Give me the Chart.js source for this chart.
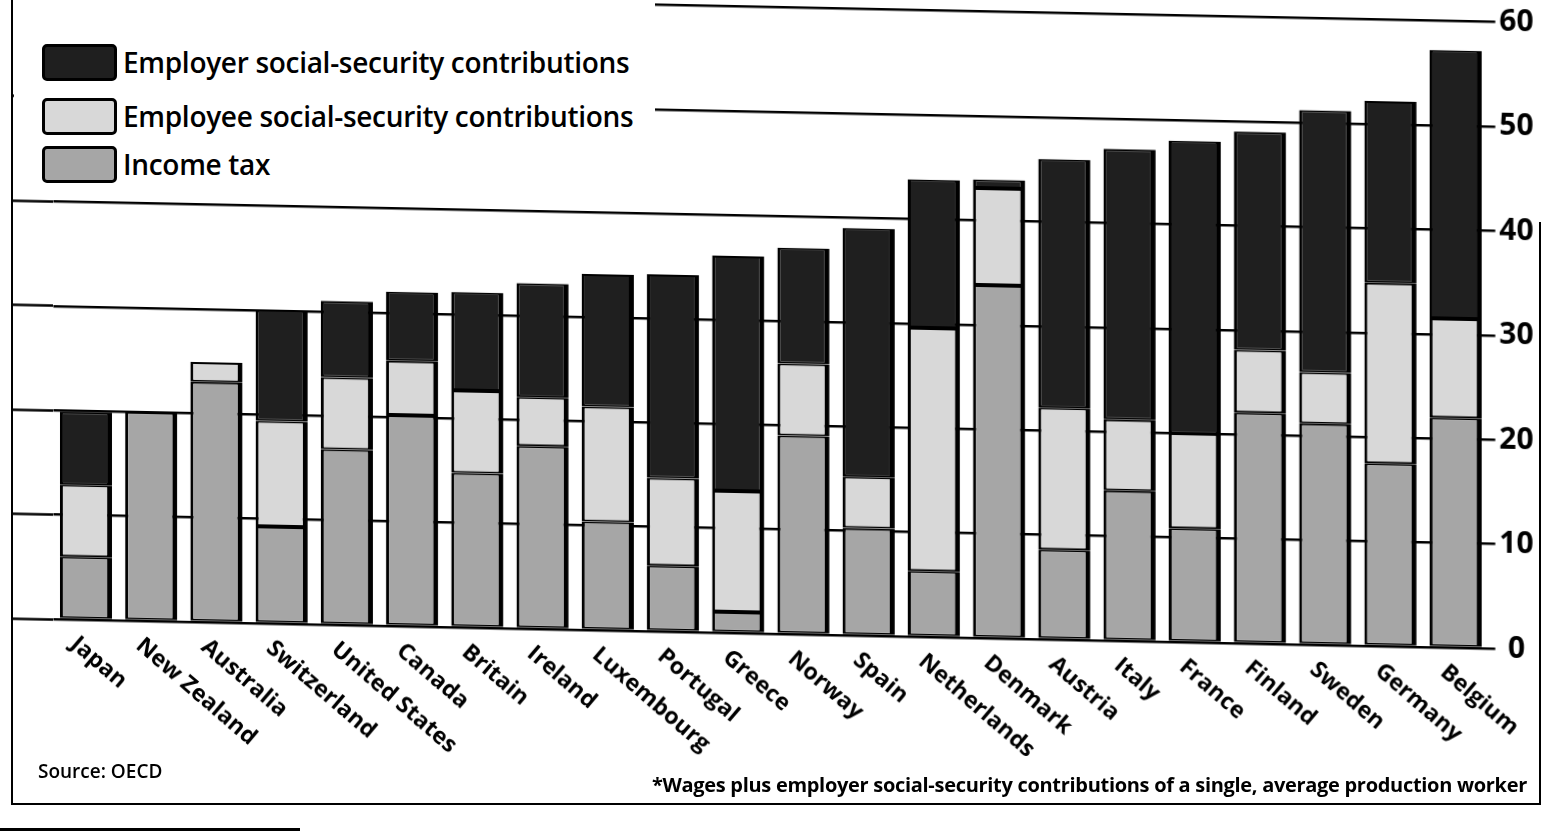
<!DOCTYPE html>
<html>
<head>
<meta charset="utf-8">
<script src="https://cdn.jsdelivr.net/npm/chart.js@4.4.1/dist/chart.umd.min.js"></script>
<style>
html, body { margin: 0; padding: 0; background: #fff; width: 1551px; height: 838px; overflow: hidden; font-family: "Open Sans", sans-serif; }
/* the scanned page is slightly skewed: right side sits lower */
#wrap { position: absolute; left: 0; top: -40px; width: 1551px; height: 878px; transform-origin: 0 0; transform: skewY(1.17deg); }
#legend { position: absolute; left: 14px; top: 0; width: 641px; height: 194px; background: #fff; }
.item { position: absolute; left: 28px; height: 40px; display: flex; align-items: center; }
.sw { box-sizing: border-box; width: 75px; height: 37px; border: 3px solid #000; border-radius: 5px; margin-right: 6px; }
.item span { font-size: 28px; font-weight: 600; color: #000; letter-spacing: -0.3px; }
#frame { position: absolute; left: 11px; top: 0; width: 1528px; height: 803px; border-left: 2px solid #000; border-bottom: 2px solid #000; }
#rline { position: absolute; left: 1539px; top: 222px; width: 2px; height: 583px; background: #000; }
#edge { position: absolute; left: 0; top: 828px; width: 300px; height: 3px; background: #000; }
#src { position: absolute; left: 38px; top: 758px; font-size: 19px; font-weight: 600; }
#note { position: absolute; right: 24px; top: 771px; font-size: 20px; font-weight: 700; letter-spacing: -0.3px; }
</style>
</head>
<body>
<div id="wrap"><canvas id="barChart"></canvas></div>
<div id="legend"></div>
<div id="frame"></div>
<div id="rline"></div>
<div id="edge"></div>
<div id="src">Source: OECD</div>
<div id="note">*Wages plus employer social-security contributions of a single, average production worker</div>
<script>
// countries, lowest to highest total
var countries = ['Japan', 'New Zealand', 'Australia', 'Switzerland', 'United States', 'Canada', 'Britain',
    'Ireland', 'Luxembourg', 'Portugal', 'Greece', 'Norway', 'Spain', 'Netherlands', 'Denmark', 'Austria',
    'Italy', 'France', 'Finland', 'Sweden', 'Germany', 'Belgium'];
// % of labour costs
var incomeTax = [6.0, 20.0, 23.0, 9.3, 16.8, 20.2, 14.8, 17.5, 10.4, 6.3, 2.0, 19.0, 10.3, 6.3, 33.8, 8.6, 14.4, 10.9, 22.1, 21.2, 17.5, 22.0];
var employeeSS = [6.9, 0, 1.9, 10.1, 6.9, 5.2, 7.9, 4.7, 11.0, 8.4, 11.6, 6.9, 4.9, 23.3, 9.3, 13.6, 6.8, 9.1, 6.0, 4.9, 17.3, 9.5];
var employerSS = [7.0, 0, 0, 10.6, 7.3, 6.6, 9.4, 10.9, 12.7, 19.5, 22.5, 11.1, 23.8, 14.2, 0.8, 23.8, 25.9, 28.0, 20.9, 25.1, 17.4, 25.7];
var yMin = 0, yMax = 60, yStep = 10;

var colTax = '#a6a6a6';
var colEmployee = '#d8d8d8';
var colEmployer = '#1f1f1f';

var barBorder = { top: 2, bottom: 2, left: 3, right: 5 };

// x labels run down to the right from each bar
var slantLabels = {
    id: 'slantLabels',
    afterDatasetsDraw: function (chart) {
        var ctx = chart.ctx, x = chart.scales.x, area = chart.chartArea;
        ctx.save();
        ctx.font = 'bold 23px "Open Sans"';
        ctx.fillStyle = '#000';
        ctx.textAlign = 'left';
        ctx.textBaseline = 'top';
        chart.data.labels.forEach(function (lab, i) {
            ctx.save();
            ctx.translate(x.getPixelForValue(i) - 5, area.bottom + 13);
            ctx.rotate(40 * Math.PI / 180);
            ctx.fillText(lab, 0, 0);
            ctx.restore();
        });
        ctx.restore();
    }
};

var ctx = document.getElementById('barChart').getContext('2d');
var chart = new Chart(ctx, {
    type: 'bar',
    data: {
        labels: countries,
        datasets: [
            { label: 'Income tax', data: incomeTax, backgroundColor: colTax },
            { label: 'Employee social-security contributions', data: employeeSS, backgroundColor: colEmployee },
            { label: 'Employer social-security contributions', data: employerSS, backgroundColor: colEmployer }
        ]
    },
    options: {
        responsive: true,
        maintainAspectRatio: false,
        animation: false,
        datasets: {
            bar: {
                borderColor: '#000',
                borderWidth: barBorder,
                borderSkipped: false,
                categoryPercentage: 1.0,
                barPercentage: 0.8
            }
        },
        layout: { padding: { top: 31.5, bottom: 220, left: 12, right: 0 } },
        plugins: {
            legend: { display: false },
            tooltip: { enabled: false }
        },
        scales: {
            x: { stacked: true, display: false },
            y: {
                stacked: true,
                position: 'right',
                min: yMin, max: yMax,
                border: { display: false },
                grid: { color: '#000', lineWidth: 2.5, drawTicks: true, tickLength: 7, tickColor: '#000', tickWidth: 2.5 },
                ticks: {
                    stepSize: yStep,
                    color: '#000',
                    padding: 4,
                    crossAlign: 'center',
                    font: { family: '"Open Sans"', size: 30, weight: 'bold' }
                },
                afterFit: function (s) { s.width = 62.4; }
            },
            // only used to carry the gridlines out to the left frame
            yLeft: {
                position: 'left',
                min: yMin, max: yMax,
                border: { display: false },
                grid: { drawOnChartArea: false, drawTicks: true, tickLength: 41.4, tickColor: '#000', tickWidth: 2.5 },
                ticks: { stepSize: yStep, display: false },
                afterFit: function (s) { s.width = 41.4; }
            }
        }
    },
    plugins: [slantLabels]
});

// legend, stacked top to bottom like the original
var legendItems = [
    { text: 'Employer social-security contributions', color: colEmployer, top: 44 },
    { text: 'Employee social-security contributions', color: colEmployee, top: 98 },
    { text: 'Income tax', color: colTax, top: 146 }
];
var legendBox = document.getElementById('legend');
legendItems.forEach(function (it) {
    var row = document.createElement('div');
    row.className = 'item';
    row.style.top = (it.top - 2) + 'px';
    var sw = document.createElement('div');
    sw.className = 'sw';
    sw.style.background = it.color;
    var tx = document.createElement('span');
    tx.textContent = it.text;
    row.appendChild(sw);
    row.appendChild(tx);
    legendBox.appendChild(row);
});
</script>
</body>
</html>
